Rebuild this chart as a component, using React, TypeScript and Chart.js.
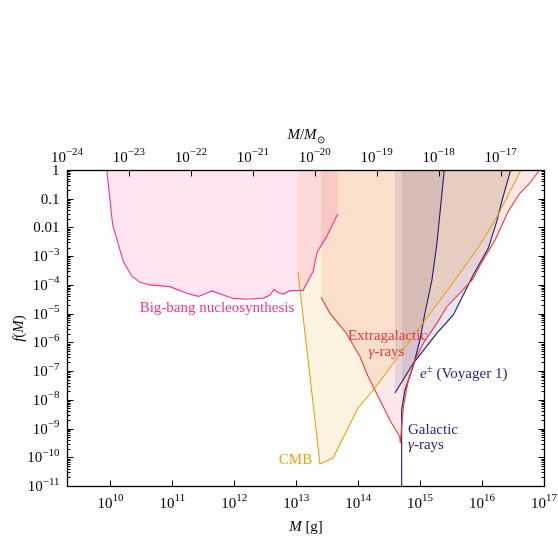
import React, { useEffect, useRef } from 'react';
import { Chart, registerables } from 'chart.js';

Chart.register(...registerables);

// ---- axis constants (log10 units) ----
const LOG_MSUN_G = 33.2987;
const X_MIN = 9.2987;
const X_MAX = 17;
const Y_MIN = -11;
const Y_MAX = 0;

// ---- tick labels ----
const bottomTickExps = [10, 11, 12, 13, 14, 15, 16, 17];
const topTickExps = [-24, -23, -22, -21, -20, -19, -18, -17];
const yTickExps = [0, -1, -2, -3, -4, -5, -6, -7, -8, -9, -10, -11];
const yTickPlain = ['1', '0.1', '0.01'];

// ---- data: log10(M / g) and log10 f(M) ----
const bbnLogM = [9.94, 10.036, 10.208, 10.343, 10.477, 10.64, 10.96, 11.23, 11.42, 11.64, 11.82, 11.98, 12.2, 12.47, 12.58, 12.64, 12.71, 12.79, 12.9, 13.11, 13.27, 13.34, 13.49, 13.67];
const bbnLogF = [0, -1.91, -3.19, -3.69, -3.91, -4.0, -4.06, -4.29, -4.4, -4.21, -4.35, -4.47, -4.5, -4.46, -4.35, -4.15, -4.27, -4.32, -4.2, -4.19, -3.54, -2.84, -2.32, -1.53];

const cmbLogM = [13.028, 13.383, 13.593, 13.997, 14.271, 15.563, 15.966, 16.257, 16.628];
const cmbLogF = [-3.551, -10.234, -10.025, -8.285, -7.589, -3.829, -2.611, -1.566, 0];

const egLogM = [13.4, 13.545, 13.81, 14.03, 14.16, 14.35, 14.51, 14.67, 14.68, 14.73, 14.81, 14.92, 15.05, 15.27, 15.43, 15.68, 15.85, 15.97, 16.21, 16.42, 16.61, 16.77, 16.93];
const egLogF = [-4.43, -4.99, -5.69, -6.5, -7.19, -8.01, -8.7, -9.28, -9.51, -8.24, -7.31, -6.61, -6.03, -5.34, -4.76, -4.2, -3.8, -3.31, -2.44, -1.45, -0.81, -0.46, 0];

const galLogM = [14.702, 14.702, 14.756, 14.885, 14.997, 15.078, 15.191, 15.272, 15.39];
const galLogF = [-11, -8.355, -7.658, -6.858, -5.918, -4.978, -3.829, -2.541, 0];

const voyLogM = [14.594, 14.89, 15.268, 15.535, 15.858, 16.1, 16.236, 16.317, 16.462];
const voyLogF = [-7.763, -6.73, -5.685, -5.047, -3.655, -2.726, -1.8, -1.1, 0];

// ---- styles ----
const SERIF = '"Liberation Serif", "Times New Roman", serif';
const F_BASE = `15px ${SERIF}`;
const F_SUP = `11px ${SERIF}`;
const F_IT = `italic 15px ${SERIF}`;

const C_BBN = '#ff2d90';
const C_CMB = '#e8a010';
const C_EG = '#ee3a3a';
const C_GAL = '#1c1c6e';

type Seg = { t: string; font: string; dy?: number };

function drawRich(ctx: CanvasRenderingContext2D, segs: Seg[], x: number, y: number, align: 'left' | 'center' | 'right', color: string) {
  ctx.fillStyle = color;
  ctx.textAlign = 'left';
  ctx.textBaseline = 'alphabetic';
  let w = 0;
  const widths = segs.map((s) => {
    ctx.font = s.font;
    const m = ctx.measureText(s.t).width;
    w += m;
    return m;
  });
  let cx = align === 'center' ? x - w / 2 : align === 'right' ? x - w : x;
  segs.forEach((s, i) => {
    ctx.font = s.font;
    ctx.fillText(s.t, cx, y + (s.dy || 0));
    cx += widths[i];
  });
}

const pow10 = (e: number): Seg[] => [
  { t: '10', font: F_BASE },
  { t: String(e).replace('-', '\u2212'), font: F_SUP, dy: -6.5 },
];

const decorPlugin = {
  id: 'decor',
  afterDraw(chart: any) {
    const ctx: CanvasRenderingContext2D = chart.ctx;
    const xs = chart.scales.x;
    const ys = chart.scales.y;
    const { left, right, top, bottom } = chart.chartArea;
    const L = Math.round(left) + 0.5;
    const R = Math.round(right) + 0.5;
    const T = Math.round(top) + 0.5;
    const B = Math.round(bottom) + 0.5;
    ctx.save();
    ctx.strokeStyle = '#000';
    ctx.lineWidth = 1;
    ctx.beginPath();
    // y ticks (major + minor) on both sides
    for (let e = Y_MIN; e <= Y_MAX; e++) {
      const yp = Math.round(ys.getPixelForValue(e)) + 0.5;
      ctx.moveTo(L, yp); ctx.lineTo(L + 6, yp);
      ctx.moveTo(R, yp); ctx.lineTo(R - 6, yp);
      if (e < Y_MAX) {
        for (let k = 2; k <= 9; k++) {
          const ym = Math.round(ys.getPixelForValue(e + Math.log10(k))) + 0.5;
          ctx.moveTo(L, ym); ctx.lineTo(L + 3, ym);
          ctx.moveTo(R, ym); ctx.lineTo(R - 3, ym);
        }
      }
    }
    // bottom ticks
    bottomTickExps.forEach((e) => {
      const xp = Math.round(xs.getPixelForValue(e)) + 0.5;
      ctx.moveTo(xp, B); ctx.lineTo(xp, B - 6);
    });
    // top ticks (solar masses)
    topTickExps.forEach((e) => {
      const xp = Math.round(xs.getPixelForValue(e + LOG_MSUN_G)) + 0.5;
      ctx.moveTo(xp, T); ctx.lineTo(xp, T + 6);
    });
    ctx.stroke();
    // frame
    ctx.lineWidth = 1.3;
    ctx.strokeRect(L, T, R - L, B - T);

    // tick labels
    bottomTickExps.forEach((e) => {
      drawRich(ctx, pow10(e), xs.getPixelForValue(e), B + 21, 'center', '#000');
    });
    topTickExps.forEach((e) => {
      drawRich(ctx, pow10(e), xs.getPixelForValue(e + LOG_MSUN_G), T - 9, 'center', '#000');
    });
    yTickExps.forEach((e, i) => {
      const yp = ys.getPixelForValue(e) + 5;
      const segs: Seg[] = i < yTickPlain.length ? [{ t: yTickPlain[i], font: F_BASE }] : pow10(e);
      drawRich(ctx, segs, L - 8, yp, 'right', '#000');
    });

    // axis titles
    const midX = (L + R) / 2;
    drawRich(ctx, [{ t: 'M', font: F_IT }, { t: ' [g]', font: F_BASE }], midX, B + 44, 'center', '#000');
    drawRich(ctx, [
      { t: 'M', font: F_IT }, { t: '/', font: F_BASE }, { t: 'M', font: F_IT },
      { t: '\u2299', font: `10px ${SERIF}`, dy: 4 },
    ], midX, T - 32, 'center', '#000');
    ctx.save();
    ctx.translate(23, (T + B) / 2);
    ctx.rotate(-Math.PI / 2);
    drawRich(ctx, [{ t: 'f', font: F_IT }, { t: '(', font: F_BASE }, { t: 'M', font: F_IT }, { t: ')', font: F_BASE }], 0, 0, 'center', '#000');
    ctx.restore();

    // region labels (anchored in data coordinates)
    const P = (mx: number, fy: number) => [xs.getPixelForValue(mx), ys.getPixelForValue(fy) + 5];
    let [px, py] = P(11.72, -4.76);
    drawRich(ctx, [{ t: 'Big-bang nucleosynthesis', font: F_BASE }], px, py, 'center', '#f0358f');
    [px, py] = P(12.988, -10.06);
    drawRich(ctx, [{ t: 'CMB', font: F_BASE }], px, py, 'center', '#e8a317');
    [px, py] = P(14.473, -5.744);
    drawRich(ctx, [{ t: 'Extragalactic', font: F_BASE }], px, py, 'center', '#e8383d');
    [px, py] = P(14.457, -6.3);
    drawRich(ctx, [{ t: '\u03b3', font: F_IT }, { t: '-rays', font: F_BASE }], px, py, 'center', '#e8383d');
    [px, py] = P(14.998, -7.067);
    drawRich(ctx, [
      { t: 'e', font: F_IT }, { t: '\u00b1', font: F_SUP, dy: -6 }, { t: ' (Voyager 1)', font: F_BASE },
    ], px, py, 'left', '#26267a');
    [px, py] = P(14.804, -9.016);
    drawRich(ctx, [{ t: 'Galactic', font: F_BASE }], px, py, 'left', '#26267a');
    [px, py] = P(14.804, -9.538);
    drawRich(ctx, [{ t: '\u03b3', font: F_IT }, { t: '-rays', font: F_BASE }], px, py, 'left', '#26267a');
    ctx.restore();
  },
};

function series(label: string, xs: number[], ys: number[], line: string, fillColor: string) {
  return {
    label,
    data: xs.map((x, i) => ({ x, y: ys[i] })),
    borderColor: line,
    backgroundColor: fillColor,
    borderWidth: 1.1,
    pointRadius: 0,
    tension: 0,
    fill: 'end',
  };
}

export default function App() {
  const ref = useRef<HTMLCanvasElement | null>(null);
  useEffect(() => {
    if (!ref.current) return;
    const chart = new Chart(ref.current, {
      type: 'line',
      data: {
        datasets: [
          series('Big-bang nucleosynthesis', bbnLogM, bbnLogF, C_BBN, 'rgba(255,40,150,0.12)'),
          series('CMB', cmbLogM, cmbLogF, C_CMB, 'rgba(230,160,0,0.12)'),
          series('Extragalactic gamma-rays', egLogM, egLogF, C_EG, 'rgba(230,50,50,0.115)'),
          series('e+- (Voyager 1)', voyLogM, voyLogF, C_GAL, 'rgba(30,30,120,0.1)'),
          series('Galactic gamma-rays', galLogM, galLogF, C_GAL, 'rgba(30,30,120,0.1)'),
        ] as any,
      },
      options: {
        responsive: false,
        animation: false,
        events: [],
        layout: { padding: { left: 67, top: 170, right: 14, bottom: 54 }, autoPadding: false } as any,
        scales: {
          x: { type: 'linear', min: X_MIN, max: X_MAX, display: false },
          y: { type: 'linear', min: Y_MIN, max: Y_MAX, display: false },
        },
        plugins: {
          legend: { display: false },
          tooltip: { enabled: false },
          filler: { drawTime: 'beforeDatasetsDraw', propagate: false },
        } as any,
      },
      plugins: [decorPlugin],
    });
    return () => chart.destroy();
  }, []);
  return (
    <div style={{ position: 'absolute', left: 0, top: 0, width: 558, height: 540 }}>
      <canvas ref={ref} width={558} height={540} style={{ display: 'block' }} />
    </div>
  );
}
